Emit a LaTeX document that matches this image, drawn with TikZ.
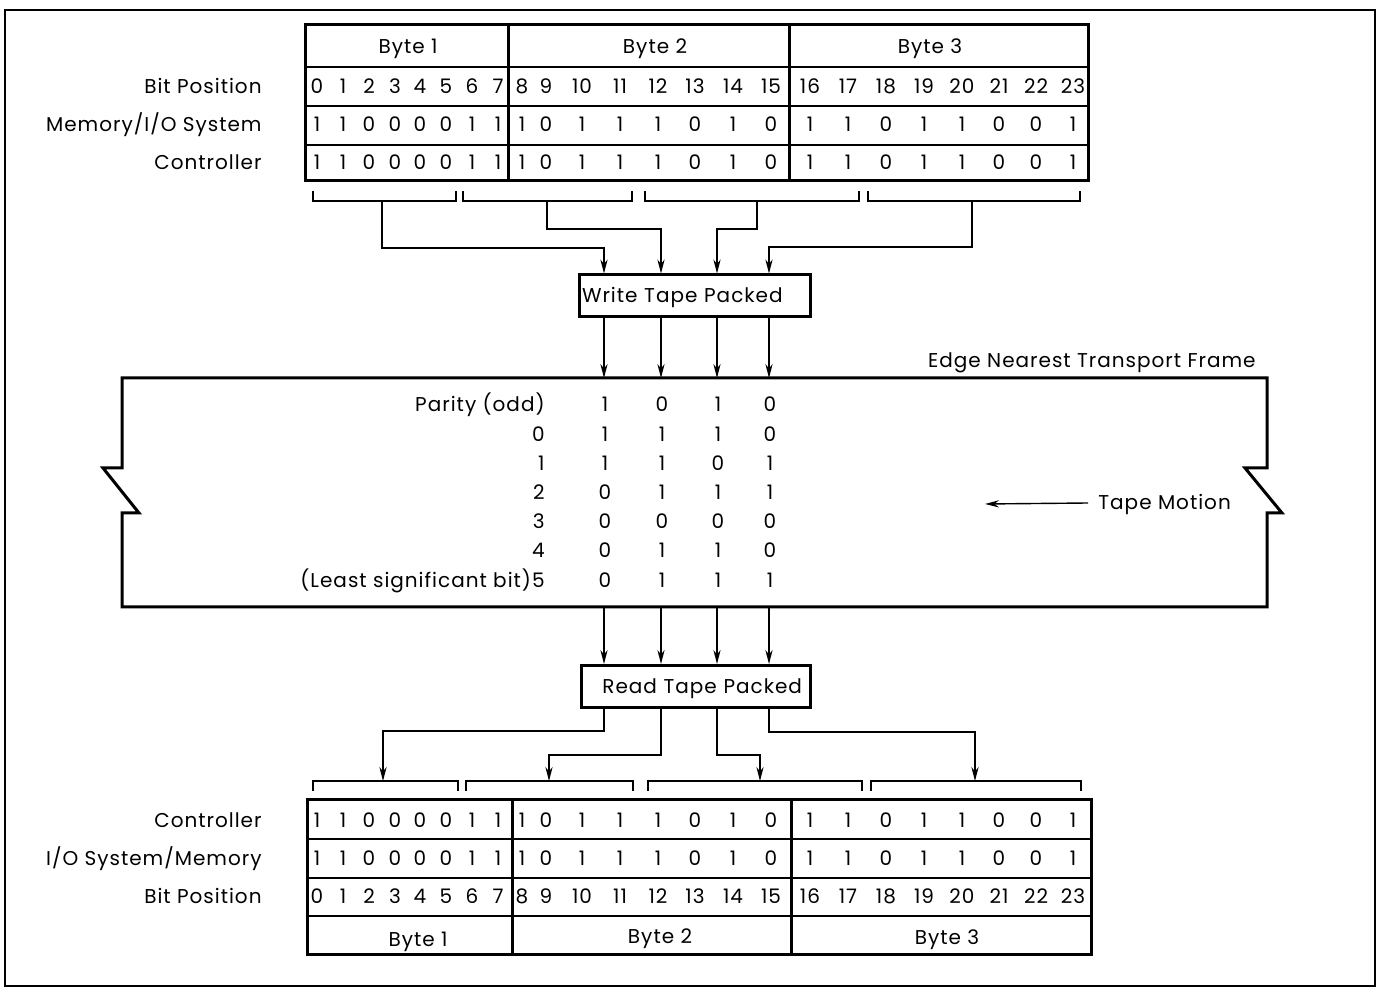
\documentclass[tikz,border=0pt]{standalone}
\usepackage{fontspec}
\setmainfont{Poppins}[LetterSpace=5]
\usetikzlibrary{arrows.meta,positioning,calc}

\begin{document}
\begin{tikzpicture}[
  x=0.5pt, y=-0.5pt,
  cell/.style={inner sep=0pt, font=\fontsize{10}{12}\selectfont, text height=7pt, text depth=0pt},
  row label/.style={cell, anchor=east},
  grid line/.style={line width=1pt},
  heavy line/.style={line width=1.5pt},
  bracket/.style={line width=1.2pt},
  packbox/.style={cell, draw, line width=1.5pt, minimum height=21pt},
  link/.style={-{Stealth[length=7pt,width=3.6pt]}, line width=0.7pt}
]
  \useasboundingbox (0,0) rectangle (1378,988);
  \draw[line width=1pt] (5,10) rectangle (1375,986);

  % upper table
  \draw[grid line] (305,67) -- (1088,67) (305,106) -- (1088,106) (305,145) -- (1088,145);
  \draw[heavy line] (305,25) rectangle (1088,181) (508,25) -- (508,181) (789,25) -- (789,181);
  \node[cell] (ubyte1) at (408,47) {Byte 1};
  \node[cell] (ubyte2) at (655,47) {Byte 2};
  \node[cell] (ubyte3) at (930,47) {Byte 3};
  \node[row label] (upos label) at (262,87) {Bit Position};
  \node[row label] (umem label) at (262,125) {Memory/I/O System};
  \node[row label] (uctl label) at (262,163) {Controller};

  % lower table
  \draw[grid line] (307,839) -- (1091,839) (307,878) -- (1091,878) (307,916) -- (1091,916);
  \draw[heavy line] (307,800) rectangle (1091,955) (512,800) -- (512,955) (791,800) -- (791,955);
  \node[cell] (lbyte1) at (418,940) {Byte 1};
  \node[cell] (lbyte2) at (660,937) {Byte 2};
  \node[cell] (lbyte3) at (947,938) {Byte 3};
  \node[row label] (lctl label) at (262,821) {Controller};
  \node[row label] (lio label) at (262,859) {I/O System/Memory};
  \node[row label] (lpos label) at (262,897) {Bit Position};

  % bits of both tables
  \foreach \x/\b [count=\i from 0] in {317/1,343/1,369/0,395/0,420/0,446/0,472/1,498/1,
      522/1,546/0,582/1,620/1,658/1,695/0,733/1,771/0,
      810/1,848/1,886/0,924/1,962/1,999/0,1036/0,1073/1} {
    \node[cell] (upos\i) at (\x,87) {\i};
    \node[cell] (umem\i) at (\x,125) {\b};
    \node[cell] (uctl\i) at (\x,163) {\b};
    \node[cell] (lctl\i) at (\x,821) {\b};
    \node[cell] (lio\i) at (\x,859) {\b};
    \node[cell] (lpos\i) at (\x,897) {\i};
  }

  % six-bit groups
  \foreach \l/\r/\m [count=\k] in {313/456/382,463/632/547,645/859/757,868/1080/972} {
    \draw[bracket] (\l,191) -- (\l,201) -- (\r,201) -- (\r,191);
    \coordinate (ub\k) at (\m,201);
  }
  \foreach \l/\r/\m [count=\k] in {313/458/383,466/633/549,648/862/760,871/1081/975} {
    \draw[bracket] (\l,791) -- (\l,781) -- (\r,781) -- (\r,791);
    \coordinate (lb\k) at (\m,781);
  }
  \foreach \x [count=\k] in {604,661,717,769}
    \coordinate (col\k) at (\x,0);

  \node[packbox, text width=112.5pt, inner xsep=1.5pt, align=left] (wtp) at (694.5,296) {Write Tape Packed};
  \node[packbox, text width=106.5pt, inner xsep=4pt, align=right] (rtp) at (695.5,686.5) {Read Tape Packed};

  % tape
  \coordinate (tapetop) at (0,378);
  \coordinate (tapebot) at (0,607);
  \draw[heavy line] (122,378) -- (1267,378) -- (1267,468) -- (1245,468) -- (1282,513) -- (1267,513)
    -- (1267,607) -- (122,607) -- (122,513) -- (139,513) -- (103,468) -- (122,468) -- cycle;
  \node[cell, anchor=east] (edge) at (1256,361) {Edge Nearest Transport Frame};
  \node[cell, anchor=west] (motion) at (1098,503) {Tape Motion};
  \coordinate (motionend) at (985,504);
  \draw[link] ([xshift=-5pt]motion.west) -- (motionend);

  \foreach \lab/\a/\b/\c/\d [count=\r] in {Parity (odd)/1/0/1/0, 0/1/1/1/0, 1/1/1/0/1,
      2/0/1/1/1, 3/0/0/0/0, 4/0/1/1/0, (Least significant bit)5/0/1/1/1} {
    \pgfmathsetmacro\ty{405+29.2*(\r-1)}
    \node[row label] (trow\r) at (545,\ty) {\lab};
    \foreach \v [count=\k] in {\a,\b,\c,\d}
      \node[cell] (tbit\r-\k) at ($(col\k)+(1,\ty)$) {\v};
  }

  % connectors
  \foreach \k/\d in {1/47,2/28,3/28,4/46}
    \draw[link] (ub\k) -- ++(0,\d) -| (col\k |- wtp.north);
  \foreach \k in {1,...,4} {
    \draw[link] (col\k |- wtp.south) -- (col\k |- tapetop);
    \draw[link] (col\k |- tapebot) -- (col\k |- rtp.north);
  }
  \foreach \k/\d in {1/22,2/46,3/46,4/23}
    \draw[link] (col\k |- rtp.south) -- ++(0,\d) -| (lb\k);
\end{tikzpicture}
\end{document}
